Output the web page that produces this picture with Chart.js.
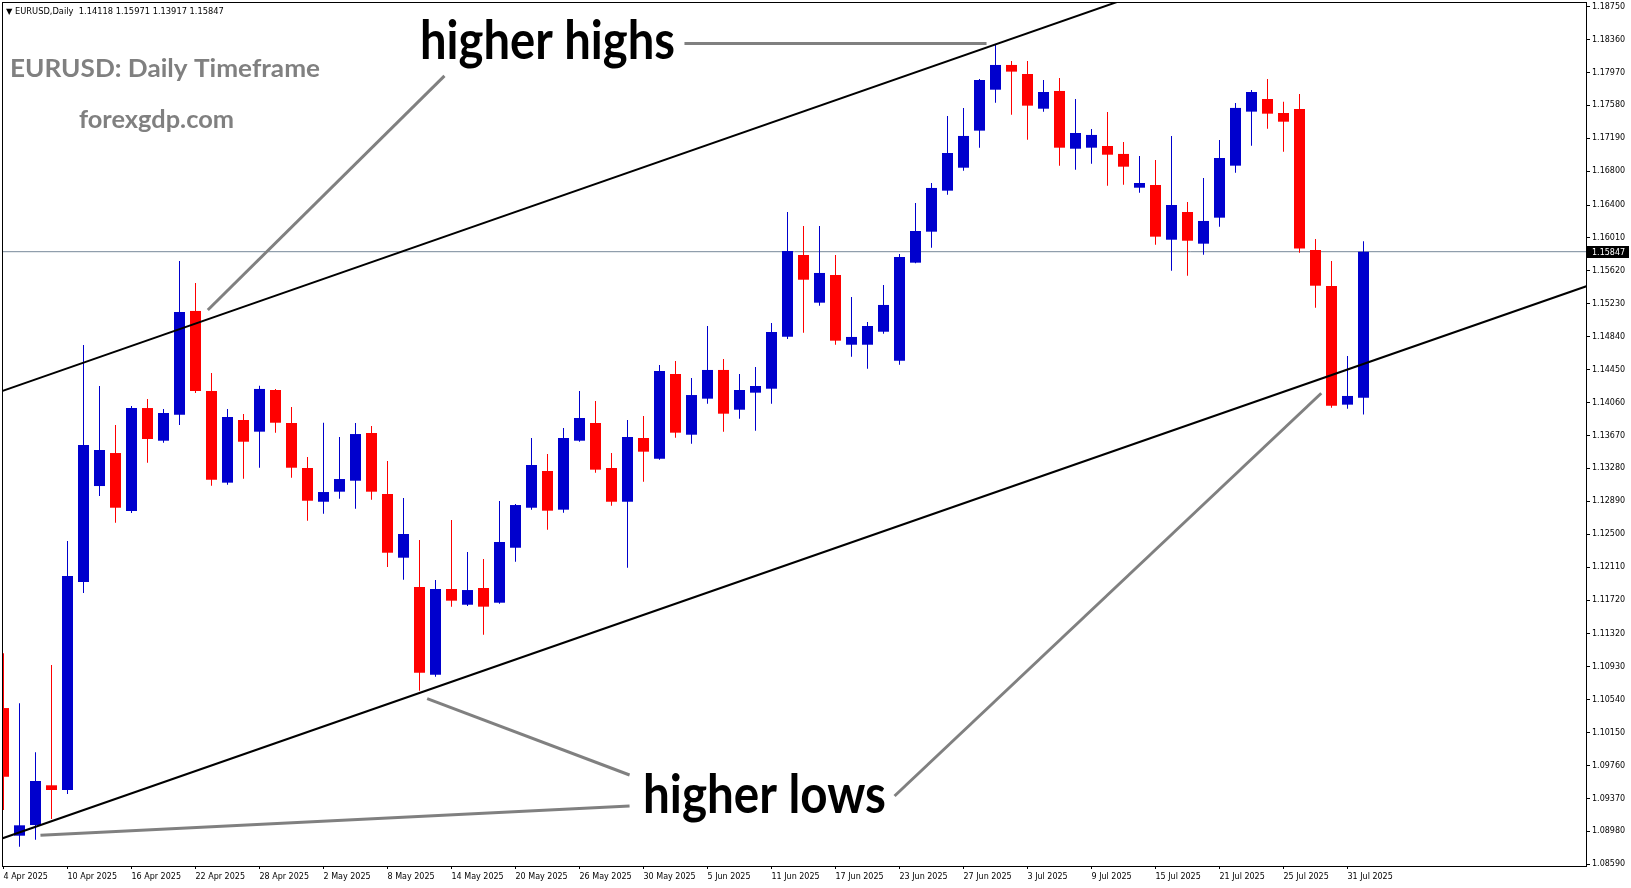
<!DOCTYPE html>
<html>
<head>
<meta charset="utf-8">
<title>EURUSD Daily</title>
<script src="https://cdn.jsdelivr.net/npm/chart.js@4.4.1/dist/chart.umd.min.js"></script>
<style>
  html, body { margin: 0; padding: 0; background: #fff; overflow: hidden; }
</style>
</head>
<body>
<canvas id="chart" width="1631" height="888"></canvas>
<script>
// ----- DATA -----
const dates = [
  '4 Apr 2025', '7 Apr 2025', '8 Apr 2025', '9 Apr 2025', '10 Apr 2025', '11 Apr 2025', '14 Apr 2025', '15 Apr 2025',
  '16 Apr 2025', '17 Apr 2025', '18 Apr 2025', '21 Apr 2025', '22 Apr 2025', '23 Apr 2025', '24 Apr 2025', '25 Apr 2025',
  '28 Apr 2025', '29 Apr 2025', '30 Apr 2025', '1 May 2025', '2 May 2025', '5 May 2025', '6 May 2025', '7 May 2025',
  '8 May 2025', '9 May 2025', '12 May 2025', '13 May 2025', '14 May 2025', '15 May 2025', '16 May 2025', '19 May 2025',
  '20 May 2025', '21 May 2025', '22 May 2025', '23 May 2025', '26 May 2025', '27 May 2025', '28 May 2025', '29 May 2025',
  '30 May 2025', '2 Jun 2025', '3 Jun 2025', '4 Jun 2025', '5 Jun 2025', '6 Jun 2025', '9 Jun 2025', '10 Jun 2025',
  '11 Jun 2025', '12 Jun 2025', '13 Jun 2025', '16 Jun 2025', '17 Jun 2025', '18 Jun 2025', '19 Jun 2025', '20 Jun 2025',
  '23 Jun 2025', '24 Jun 2025', '25 Jun 2025', '26 Jun 2025', '27 Jun 2025', '30 Jun 2025', '1 Jul 2025', '2 Jul 2025',
  '3 Jul 2025', '4 Jul 2025', '7 Jul 2025', '8 Jul 2025', '9 Jul 2025', '10 Jul 2025', '11 Jul 2025', '14 Jul 2025',
  '15 Jul 2025', '16 Jul 2025', '17 Jul 2025', '18 Jul 2025', '21 Jul 2025', '22 Jul 2025', '23 Jul 2025', '24 Jul 2025',
  '25 Jul 2025', '28 Jul 2025', '29 Jul 2025', '30 Jul 2025', '31 Jul 2025', '1 Aug 2025'
];

const opens = [
  1.10441, 1.08929, 1.09055, 1.09526, 1.09470, 1.11934, 1.13071, 1.13462, 1.12775, 1.13995,
  1.13608, 1.13916, 1.15145, 1.14197, 1.13111, 1.13853, 1.13715, 1.14209, 1.13818, 1.13285,
  1.12885, 1.13004, 1.13134, 1.13699, 1.12977, 1.12222, 1.11875, 1.10836, 1.11851, 1.11665,
  1.11863, 1.11689, 1.12340, 1.12814, 1.13249, 1.12791, 1.13608, 1.13818, 1.13285, 1.12885,
  1.13640, 1.13395, 1.14398, 1.13679, 1.14106, 1.14446, 1.13975, 1.14177, 1.14224, 1.14840,
  1.15808, 1.15243, 1.15571, 1.14745, 1.14745, 1.14899, 1.14556, 1.15717, 1.16084, 1.16570,
  1.16842, 1.17281, 1.17766, 1.18059, 1.17952, 1.17541, 1.17751, 1.17067, 1.17079, 1.17099,
  1.17005, 1.16605, 1.16637, 1.15989, 1.16317, 1.15942, 1.16250, 1.16866, 1.17506, 1.17656,
  1.17490, 1.17538, 1.15867, 1.15441, 1.14035, 1.14118
];

const highs = [
  1.11089, 1.10497, 1.09917, 1.10951, 1.12420, 1.14742, 1.14256, 1.13794, 1.14019, 1.14102,
  1.13984, 1.15737, 1.15476, 1.14410, 1.13984, 1.13924, 1.14260, 1.14221, 1.14007, 1.13415,
  1.13821, 1.13652, 1.13818, 1.13782, 1.13368, 1.12929, 1.12432, 1.11958, 1.12669, 1.12290,
  1.12207, 1.12894, 1.12858, 1.13640, 1.13451, 1.13759, 1.14197, 1.14078, 1.13462, 1.13853,
  1.13901, 1.14505, 1.14552, 1.14351, 1.14967, 1.14576, 1.14398, 1.14481, 1.15002, 1.16317,
  1.16152, 1.16152, 1.15808, 1.15310, 1.15014, 1.15453, 1.15820, 1.16424, 1.16661, 1.17455,
  1.17550, 1.17893, 1.18308, 1.18106, 1.18106, 1.17881, 1.17905, 1.17656, 1.17301, 1.17502,
  1.17147, 1.16981, 1.16934, 1.17218, 1.16436, 1.16720, 1.17170, 1.17609, 1.17763, 1.17893,
  1.17624, 1.17715, 1.15998, 1.15737, 1.14612, 1.15971
];

const lows = [
  1.09233, 1.08798, 1.08881, 1.09126, 1.09423, 1.11804, 1.12953, 1.12637, 1.12752, 1.13347,
  1.13584, 1.13794, 1.14173, 1.13075, 1.13087, 1.13158, 1.13288, 1.13703, 1.13170, 1.12660,
  1.12743, 1.12921, 1.12802, 1.12909, 1.12112, 1.11961, 1.10646, 1.10812, 1.11642, 1.11650,
  1.11310, 1.11677, 1.12175, 1.12791, 1.12554, 1.12755, 1.13596, 1.13229, 1.12838, 1.12104,
  1.13122, 1.13383, 1.13644, 1.13573, 1.14046, 1.13715, 1.13869, 1.13727, 1.14046, 1.14813,
  1.14887, 1.15207, 1.14745, 1.14603, 1.14461, 1.14876, 1.14508, 1.15710, 1.15895, 1.16522,
  1.16807, 1.17079, 1.17612, 1.17470, 1.17174, 1.17506, 1.16866, 1.16819, 1.16890, 1.16629,
  1.16641, 1.16546, 1.15930, 1.15622, 1.15563, 1.15812, 1.16143, 1.16783, 1.17103, 1.17304,
  1.17032, 1.15835, 1.15184, 1.13999, 1.13987, 1.13917
];

const closes = [
  1.09627, 1.09052, 1.09577, 1.09470, 1.12005, 1.13557, 1.13498, 1.12814, 1.13995, 1.13628,
  1.13936, 1.15133, 1.14197, 1.13146, 1.13889, 1.13596, 1.14221, 1.13821, 1.13288, 1.12897,
  1.13000, 1.13154, 1.13687, 1.13004, 1.12281, 1.12503, 1.10860, 1.11851, 1.11713, 1.11839,
  1.11642, 1.12408, 1.12846, 1.13320, 1.12779, 1.13640, 1.13877, 1.13265, 1.12885, 1.13652,
  1.13478, 1.14434, 1.13703, 1.14149, 1.14446, 1.13928, 1.14209, 1.14256, 1.14896, 1.15855,
  1.15515, 1.15595, 1.14793, 1.14837, 1.14967, 1.15216, 1.15784, 1.16092, 1.16602, 1.17016,
  1.17218, 1.17881, 1.18059, 1.17980, 1.17577, 1.17739, 1.17079, 1.17253, 1.17230, 1.16996,
  1.16854, 1.16661, 1.16025, 1.16400, 1.15977, 1.16211, 1.16957, 1.17550, 1.17739, 1.17482,
  1.17387, 1.15885, 1.15444, 1.14023, 1.14138, 1.15847
];

// axis tick labels
const xTickLabels = [
  '4 Apr 2025', '10 Apr 2025', '16 Apr 2025', '22 Apr 2025', '28 Apr 2025', '2 May 2025', '8 May 2025', '14 May 2025',
  '20 May 2025', '26 May 2025', '30 May 2025', '5 Jun 2025', '11 Jun 2025', '17 Jun 2025', '23 Jun 2025', '27 Jun 2025',
  '3 Jul 2025', '9 Jul 2025', '15 Jul 2025', '21 Jul 2025', '25 Jul 2025', '31 Jul 2025'
];
const yTicks = [
  1.18750, 1.18360, 1.17970, 1.17580, 1.17190, 1.16800, 1.16400, 1.16010, 1.15620, 1.15230,
  1.14840, 1.14450, 1.14060, 1.13670, 1.13280, 1.12890, 1.12500, 1.12110, 1.11720, 1.11320,
  1.10930, 1.10540, 1.10150, 1.09760, 1.09370, 1.08980, 1.08590
];

// trend channel (bar index, price)
const channelX = [-1, 99];
const upperChannel = [1.14135, 1.20750];
const lowerChannel = [1.08836, 1.15443];

// grey pointer lines of the notes (bar index, price)
const highsPointerX = [[42.56, 61.44], [27.56, 12.77]];
const highsPointerY = [[1.18314, 1.18314], [1.17929, 1.15156]];
const lowsPointerX = [[39.13, 26.48], [39.13, 2.31], [55.69, 82.36]];
const lowsPointerY = [[1.09648, 1.10552], [1.09280, 1.08933], [1.09399, 1.14170]];

// ----- SETUP -----
const UP = '#0000CD';
const DOWN = '#FF0000';
const SMALL_FONT = { family: '"DejaVu Sans", sans-serif', size: 8 };
const AXIS_W = 45;
const AXIS_H = 22;
const BAR_PX = 16;
const X_MIN = -1 / 32;
const X_MAX = X_MIN + (1631 - 3 - AXIS_W) / BAR_PX;
const Y_MIN = 1.08570;
const Y_MAX = 1.18793;

const bars = dates.map((d, i) => i);
const candleColors = bars.map(i => (closes[i] >= opens[i] ? UP : DOWN));
const last = bars.length - 1;

function segment(xs, ys, color, width) {
    return {
        type: 'line',
        data: xs.map((x, i) => ({ x, y: ys[i] })),
        borderColor: color,
        borderWidth: width,
        pointRadius: 0,
        tension: 0,
        clip: 0,
        order: 0
    };
}

const datasets = [
    segment(channelX, upperChannel, '#000', 2),
    segment(channelX, lowerChannel, '#000', 2),
    ...highsPointerX.map((xs, i) => segment(xs, highsPointerY[i], '#808080', 3)),
    ...lowsPointerX.map((xs, i) => segment(xs, lowsPointerY[i], '#808080', 3)),
    {
        type: 'bar',
        data: bars.map(i => ({ x: i, y: [opens[i], closes[i]] })),
        backgroundColor: candleColors,
        maxBarThickness: 11,
        barPercentage: 1,
        categoryPercentage: 1,
        grouped: false,
        minBarLength: 1,
        inflateAmount: 0,
        borderWidth: 0,
        clip: 0,
        order: 1
    },
    {
        type: 'bar',
        data: bars.map(i => ({ x: i, y: [lows[i], highs[i]] })),
        backgroundColor: candleColors,
        maxBarThickness: 1,
        barPercentage: 1,
        categoryPercentage: 1,
        grouped: false,
        inflateAmount: 0,
        borderWidth: 0,
        clip: 0,
        order: 2
    },
    {
        type: 'line',
        data: [{ x: X_MIN, y: closes[last] }, { x: X_MAX, y: closes[last] }],
        borderColor: '#778899',
        borderWidth: 1,
        pointRadius: 0,
        clip: 0,
        order: 3
    }
];

// frame, bid label and text notes
function fitText(ctx, text, x, baseline, width, size, color) {
    ctx.font = `bold ${size}px Lato, "Open Sans", sans-serif`;
    const w = ctx.measureText(text).width;
    ctx.save();
    ctx.translate(x, baseline);
    ctx.scale(width / w, 1);
    ctx.fillStyle = color;
    ctx.textBaseline = 'alphabetic';
    ctx.textAlign = 'left';
    ctx.fillText(text, 0, 0);
    ctx.restore();
}

const overlay = {
    id: 'overlay',
    afterDraw(chart) {
        const { ctx, chartArea: a } = chart;
        const y = chart.scales.y;
        ctx.save();

        // plot frame
        ctx.strokeStyle = '#000';
        ctx.lineWidth = 1;
        ctx.strokeRect(a.left - 0.5, a.top - 0.5, a.right - a.left + 1, a.bottom - a.top + 1);

        // bid price label
        const by = Math.round(y.getPixelForValue(closes[last]));
        ctx.fillStyle = '#000';
        ctx.fillRect(a.right, by - 6, 43, 12);
        ctx.fillStyle = '#fff';
        ctx.font = '8px "DejaVu Sans", sans-serif';
        ctx.textBaseline = 'middle';
        ctx.fillText(closes[last].toFixed(5), a.right + 6, by + 0.5);

        // header line
        ctx.fillStyle = '#000';
        ctx.textBaseline = 'alphabetic';
        ctx.font = '8.3px "DejaVu Sans", sans-serif';
        ctx.fillText('\u25BC EURUSD,Daily  ' + [opens[last], highs[last], lows[last], closes[last]].map(v => v.toFixed(5)).join(' '), 6, 14);

        // notes
        fitText(ctx, 'EURUSD: Daily Timeframe', 10, 77, 310, 24, '#808080');
        fitText(ctx, 'forexgdp.com', 79, 128, 155, 24, '#808080');
        fitText(ctx, 'higher highs', 420, 59, 255, 54, '#000');
        fitText(ctx, 'higher lows', 643, 813, 243, 54, '#000');

        ctx.restore();
    }
};

const chart = new Chart(document.getElementById('chart').getContext('2d'), {
    type: 'bar',
    data: { datasets },
    options: {
        responsive: false,
        animation: false,
        devicePixelRatio: 1,
        layout: { padding: { left: 3, top: 3, right: 0, bottom: 0 } },
        plugins: { legend: { display: false }, tooltip: { enabled: false } },
        scales: {
            x: {
                type: 'linear',
                position: 'bottom',
                min: X_MIN,
                max: X_MAX,
                bounds: 'data',
                offset: false,
                afterBuildTicks: s => { s.ticks = xTickLabels.map(l => ({ value: dates.indexOf(l) })); },
                afterFit: s => { s.height = AXIS_H; s.paddingLeft = 0; s.paddingRight = 0; },
                ticks: {
                    autoSkip: false,
                    maxRotation: 0,
                    align: 'start',
                    padding: 3,
                    color: '#000',
                    font: SMALL_FONT,
                    callback: v => dates[Math.round(v)]
                },
                grid: { drawOnChartArea: false, drawTicks: true, tickLength: 3, color: '#000', offset: false },
                border: { display: true, color: '#000' }
            },
            y: {
                type: 'linear',
                position: 'right',
                min: Y_MIN,
                max: Y_MAX,
                bounds: 'data',
                afterBuildTicks: s => { s.ticks = yTicks.map(v => ({ value: v })); },
                afterFit: s => { s.width = AXIS_W; s.paddingTop = 0; s.paddingBottom = 0; },
                ticks: {
                    autoSkip: false,
                    padding: 2,
                    color: '#000',
                    font: SMALL_FONT,
                    callback: v => v.toFixed(5)
                },
                grid: { drawOnChartArea: false, drawTicks: true, tickLength: 4, color: '#000' },
                border: { display: true, color: '#000' }
            }
        }
    },
    plugins: [overlay]
});
</script>
</body>
</html>
